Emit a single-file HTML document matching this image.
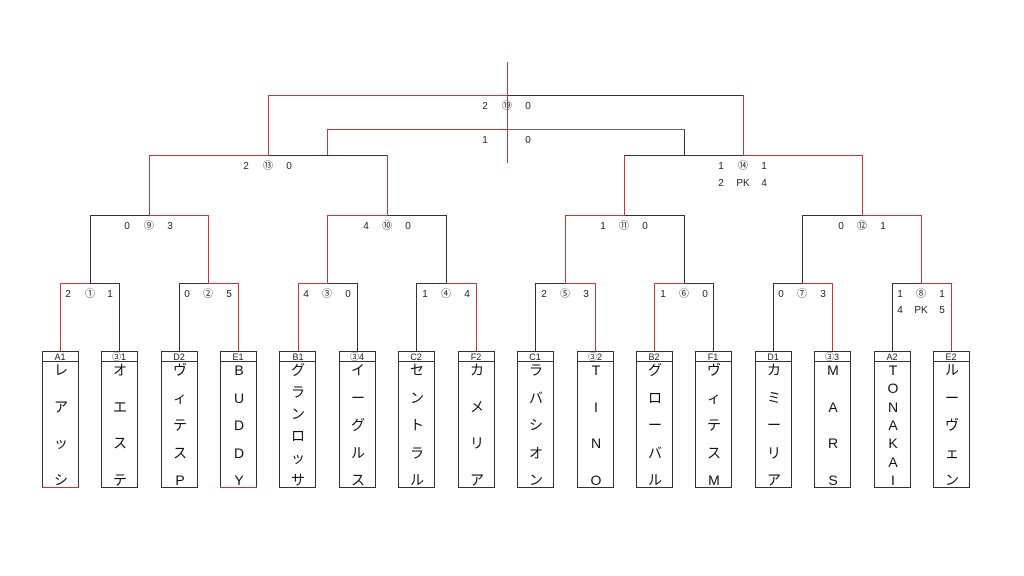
<!DOCTYPE html>
<html><head><meta charset="utf-8">
<style>
html,body{margin:0;padding:0;background:#fff;}
#w{position:relative;width:1024px;height:576px;overflow:hidden;font-family:"Liberation Sans","Noto Sans CJK JP",sans-serif;}
svg{position:absolute;left:0;top:0;}
.col{position:absolute;top:362px;height:126px;width:36px;display:flex;flex-direction:column;justify-content:space-between;align-items:center;font-size:14px;line-height:16px;color:#111;font-family:"Liberation Sans","Noto Sans CJK JP",sans-serif;}
.col span{display:block;height:16px;}
</style></head><body><div id="w">
<svg width="1024" height="576" font-family="Liberation Sans, Noto Sans CJK JP, sans-serif" font-size="10" fill="#222">
<g stroke="#333" stroke-width="1" fill="none">
<line x1="119.5" y1="351" x2="119.5" y2="283"/><line x1="179.5" y1="351" x2="179.5" y2="283"/>
<line x1="357.5" y1="351" x2="357.5" y2="283"/><line x1="416.5" y1="351" x2="416.5" y2="283"/>
<line x1="535.5" y1="351" x2="535.5" y2="283"/><line x1="713.5" y1="351" x2="713.5" y2="283"/>
<line x1="773.5" y1="351" x2="773.5" y2="283"/><line x1="892.5" y1="351" x2="892.5" y2="283"/>
<line x1="90" y1="283.5" x2="120" y2="283.5"/><line x1="179" y1="283.5" x2="208" y2="283.5"/>
<line x1="328" y1="283.5" x2="358" y2="283.5"/><line x1="416" y1="283.5" x2="446" y2="283.5"/>
<line x1="535" y1="283.5" x2="565" y2="283.5"/><line x1="685" y1="283.5" x2="714" y2="283.5"/>
<line x1="773" y1="283.5" x2="802" y2="283.5"/><line x1="892" y1="283.5" x2="921" y2="283.5"/>
<line x1="90.5" y1="283" x2="90.5" y2="215"/><line x1="446.5" y1="283" x2="446.5" y2="215"/>
<line x1="684.5" y1="283" x2="684.5" y2="215"/><line x1="802.5" y1="283" x2="802.5" y2="215"/>
<line x1="90" y1="215.5" x2="149" y2="215.5"/><line x1="388" y1="215.5" x2="447" y2="215.5"/>
<line x1="625" y1="215.5" x2="685" y2="215.5"/><line x1="802" y1="215.5" x2="862" y2="215.5"/>
<line x1="269" y1="155.5" x2="388" y2="155.5"/><line x1="625" y1="155.5" x2="743" y2="155.5"/>
<line x1="684.5" y1="155" x2="684.5" y2="129"/>
<line x1="508" y1="95.5" x2="744" y2="95.5"/>
</g>
<g stroke="#666" stroke-width="1"><line x1="508" y1="129.5" x2="685" y2="129.5"/></g>
<g stroke="#c9363a" stroke-width="1" fill="none">
<line x1="60.5" y1="351" x2="60.5" y2="283"/><line x1="238.5" y1="351" x2="238.5" y2="283"/>
<line x1="298.5" y1="351" x2="298.5" y2="283"/><line x1="476.5" y1="351" x2="476.5" y2="283"/>
<line x1="595.5" y1="351" x2="595.5" y2="283"/><line x1="654.5" y1="351" x2="654.5" y2="283"/>
<line x1="832.5" y1="351" x2="832.5" y2="283"/><line x1="951.5" y1="351" x2="951.5" y2="283"/>
<line x1="60" y1="283.5" x2="90" y2="283.5"/><line x1="208" y1="283.5" x2="239" y2="283.5"/>
<line x1="298" y1="283.5" x2="328" y2="283.5"/><line x1="446" y1="283.5" x2="477" y2="283.5"/>
<line x1="565" y1="283.5" x2="596" y2="283.5"/><line x1="654" y1="283.5" x2="685" y2="283.5"/>
<line x1="802" y1="283.5" x2="833" y2="283.5"/><line x1="921" y1="283.5" x2="952" y2="283.5"/>
<line x1="208.5" y1="283" x2="208.5" y2="215"/><line x1="327.5" y1="283" x2="327.5" y2="215"/>
<line x1="565.5" y1="283" x2="565.5" y2="215"/><line x1="921.5" y1="283" x2="921.5" y2="215"/>
<line x1="149" y1="215.5" x2="209" y2="215.5"/><line x1="327" y1="215.5" x2="388" y2="215.5"/>
<line x1="565" y1="215.5" x2="625" y2="215.5"/><line x1="862" y1="215.5" x2="922" y2="215.5"/>
<line x1="149.5" y1="215" x2="149.5" y2="155"/><line x1="387.5" y1="215" x2="387.5" y2="155"/>
<line x1="624.5" y1="215" x2="624.5" y2="155"/><line x1="862.5" y1="215" x2="862.5" y2="155"/>
<line x1="149" y1="155.5" x2="269" y2="155.5"/><line x1="743" y1="155.5" x2="863" y2="155.5"/>
<line x1="327.5" y1="155" x2="327.5" y2="129"/><line x1="327" y1="129.5" x2="508" y2="129.5"/>
<line x1="268.5" y1="155" x2="268.5" y2="95"/><line x1="743.5" y1="155" x2="743.5" y2="95"/>
<line x1="268" y1="95.5" x2="508" y2="95.5"/>
<line x1="507.5" y1="62" x2="507.5" y2="163"/>
</g>
<g stroke="#333" fill="none">
<rect x="42.5" y="351.5" width="36" height="136"/><rect x="101.5" y="351.5" width="36" height="136"/>
<rect x="161.5" y="351.5" width="36" height="136"/><rect x="220.5" y="351.5" width="36" height="136"/>
<rect x="279.5" y="351.5" width="36" height="136"/><rect x="339.5" y="351.5" width="36" height="136"/>
<rect x="398.5" y="351.5" width="36" height="136"/><rect x="458.5" y="351.5" width="36" height="136"/>
<rect x="517.5" y="351.5" width="36" height="136"/><rect x="577.5" y="351.5" width="36" height="136"/>
<rect x="636.5" y="351.5" width="36" height="136"/><rect x="695.5" y="351.5" width="36" height="136"/>
<rect x="755.5" y="351.5" width="36" height="136"/><rect x="814.5" y="351.5" width="36" height="136"/>
<rect x="874.5" y="351.5" width="36" height="136"/><rect x="933.5" y="351.5" width="36" height="136"/>
<path d="M42 361.5H79M101 361.5H138M161 361.5H198M220 361.5H257M279 361.5H316M339 361.5H376M398 361.5H435M458 361.5H495M517 361.5H554M577 361.5H614M636 361.5H673M695 361.5H732M755 361.5H792M814 361.5H851M874 361.5H911M933 361.5H970"/>
</g>
<g stroke="#c9363a"><line x1="42" y1="487.5" x2="79" y2="487.5"/><line x1="220" y1="487.5" x2="257" y2="487.5"/></g>
<g font-size="9" text-anchor="middle">
<text x="60" y="360">A1</text><text x="119" y="360">③1</text><text x="179" y="360">D2</text><text x="238" y="360">E1</text>
<text x="298" y="360">B1</text><text x="357" y="360">③4</text><text x="416" y="360">C2</text><text x="476" y="360">F2</text>
<text x="535" y="360">C1</text><text x="595" y="360">③2</text><text x="654" y="360">B2</text><text x="713" y="360">F1</text>
<text x="773" y="360">D1</text><text x="832" y="360">③3</text><text x="892" y="360">A2</text><text x="951" y="360">E2</text>
</g>
<g text-anchor="middle">
<text x="68" y="297">2</text><text x="90" y="297">①</text><text x="110" y="297">1</text>
<text x="187" y="297">0</text><text x="208" y="297">②</text><text x="229" y="297">5</text>
<text x="306" y="297">4</text><text x="327" y="297">③</text><text x="348" y="297">0</text>
<text x="425" y="297">1</text><text x="446" y="297">④</text><text x="467" y="297">4</text>
<text x="544" y="297">2</text><text x="565" y="297">⑤</text><text x="586" y="297">3</text>
<text x="663" y="297">1</text><text x="684" y="297">⑥</text><text x="705" y="297">0</text>
<text x="781" y="297">0</text><text x="802" y="297">⑦</text><text x="823" y="297">3</text>
<text x="900" y="297">1</text><text x="921" y="297">⑧</text><text x="942" y="297">1</text>
<text x="900" y="313">4</text><text x="921" y="313">PK</text><text x="942" y="313">5</text>
<text x="127" y="229">0</text><text x="149" y="229">⑨</text><text x="170" y="229">3</text>
<text x="366" y="229">4</text><text x="387" y="229">⑩</text><text x="408" y="229">0</text>
<text x="603" y="229">1</text><text x="624" y="229">⑪</text><text x="645" y="229">0</text>
<text x="841" y="229">0</text><text x="862" y="229">⑫</text><text x="883" y="229">1</text>
<text x="246" y="169">2</text><text x="268" y="169">⑬</text><text x="289" y="169">0</text>
<text x="721" y="169">1</text><text x="743" y="169">⑭</text><text x="764" y="169">1</text>
<text x="721" y="186">2</text><text x="743" y="186">PK</text><text x="764" y="186">4</text>
<text x="485" y="109">2</text><text x="507" y="109">⑲</text><text x="528" y="109">0</text>
<text x="485" y="143">1</text><text x="528" y="143">0</text>
</g>
</svg>
<div class="col" style="left:43px"><span>レ</span><span>ア</span><span>ッ</span><span>シ</span></div>
<div class="col" style="left:102px"><span>オ</span><span>エ</span><span>ス</span><span>テ</span></div>
<div class="col" style="left:162px"><span>ヴ</span><span>ィ</span><span>テ</span><span>ス</span><span>P</span></div>
<div class="col" style="left:221px"><span>B</span><span>U</span><span>D</span><span>D</span><span>Y</span></div>
<div class="col" style="left:280px"><span>グ</span><span>ラ</span><span>ン</span><span>ロ</span><span>ッ</span><span>サ</span></div>
<div class="col" style="left:340px"><span>イ</span><span>ー</span><span>グ</span><span>ル</span><span>ス</span></div>
<div class="col" style="left:399px"><span>セ</span><span>ン</span><span>ト</span><span>ラ</span><span>ル</span></div>
<div class="col" style="left:459px"><span>カ</span><span>メ</span><span>リ</span><span>ア</span></div>
<div class="col" style="left:518px"><span>ラ</span><span>バ</span><span>シ</span><span>オ</span><span>ン</span></div>
<div class="col" style="left:578px"><span>T</span><span>I</span><span>N</span><span>O</span></div>
<div class="col" style="left:637px"><span>グ</span><span>ロ</span><span>ー</span><span>バ</span><span>ル</span></div>
<div class="col" style="left:696px"><span>ヴ</span><span>ィ</span><span>テ</span><span>ス</span><span>M</span></div>
<div class="col" style="left:756px"><span>カ</span><span>ミ</span><span>ー</span><span>リ</span><span>ア</span></div>
<div class="col" style="left:815px"><span>M</span><span>A</span><span>R</span><span>S</span></div>
<div class="col" style="left:875px"><span>T</span><span>O</span><span>N</span><span>A</span><span>K</span><span>A</span><span>I</span></div>
<div class="col" style="left:934px"><span>ル</span><span>ー</span><span>ヴ</span><span>ェ</span><span>ン</span></div>
</div></body></html>
